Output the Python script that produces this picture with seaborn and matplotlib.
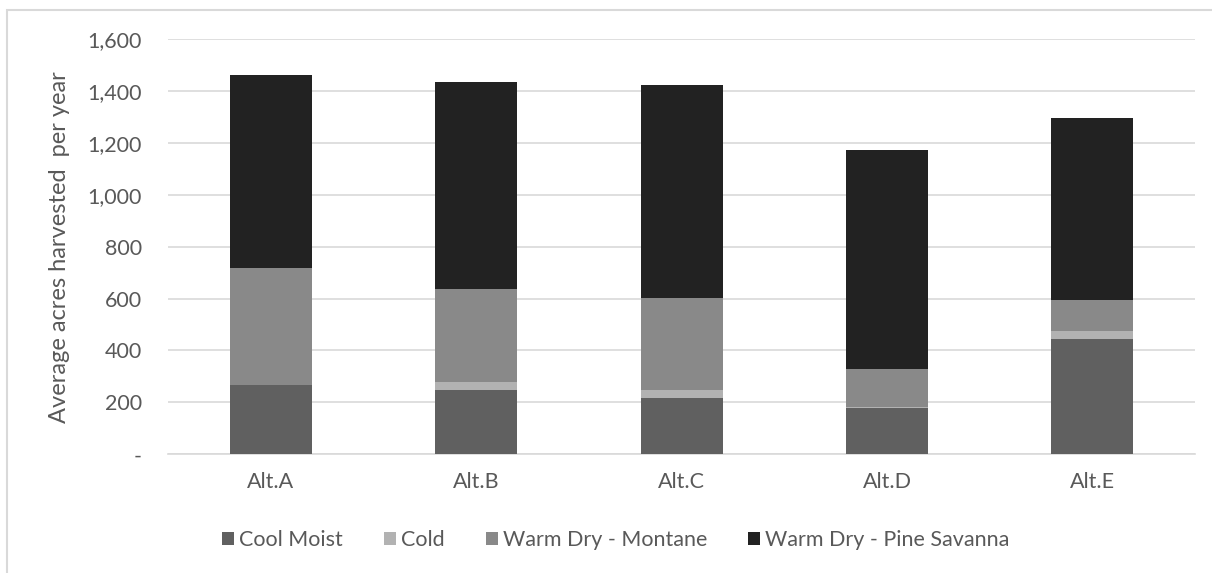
import matplotlib
matplotlib.use("Agg")
import matplotlib.pyplot as plt
import seaborn as sns
import numpy as np
import pandas as pd
from matplotlib.patches import Rectangle, Patch
from matplotlib.ticker import FuncFormatter

categories = ["Alt.A", "Alt.B", "Alt.C", "Alt.D", "Alt.E"]
series_names = ["Cool Moist", "Cold", "Warm Dry - Montane", "Warm Dry - Pine Savanna"]
cool_moist = [268, 248, 218, 178, 446]
cold = [0, 30, 30, 6, 29]
warm_dry_montane = [449, 360, 356, 144, 119]
warm_dry_pine_savanna = [743, 797, 817, 845, 702]
colors = ["#606060", "#b2b2b2", "#898989", "#222222"]

sns.set_theme(style="white")
plt.rcParams["font.family"] = ["Lato", "DejaVu Sans"]

fig = plt.figure(figsize=(12.12, 5.73), dpi=100)
ax = fig.add_axes([168.3 / 1212, 1 - 454.3 / 573, (1195 - 168.3) / 1212, (454.3 - 39) / 573])

all_series = [cool_moist, cold, warm_dry_montane, warm_dry_pine_savanna]
bottom = np.zeros(len(categories))
for name, vals, col in zip(series_names, all_series, colors):
    df = pd.DataFrame({"cat": categories, "val": vals})
    sns.barplot(data=df, x="cat", y="val", color=col, width=0.4, bottom=bottom,
                ax=ax, saturation=1, edgecolor="none", linewidth=0, zorder=3)
    bottom = bottom + np.array(vals)

ax.set_ylim(0, 1600)
ax.set_xlim(-0.5, 4.5)
ax.set_yticks(np.arange(0, 1601, 200))
ax.yaxis.set_major_formatter(FuncFormatter(lambda v, p: "-" if v == 0 else f"{int(v):,}"))
ax.grid(axis="y", color="#d9d9d9", linewidth=1.2, zorder=0)
ax.set_axisbelow(True)
for s in ["left", "right", "top"]:
    ax.spines[s].set_visible(False)
ax.spines["bottom"].set_color("#d9d9d9")
ax.spines["bottom"].set_linewidth(1.2)
ax.tick_params(axis="both", length=0, colors="#595959", labelsize=15.5)
ax.tick_params(axis="y", pad=19)
ax.tick_params(axis="x", pad=13)
ax.set_xlabel("")
ax.set_ylabel("Average acres harvested  per year", fontsize=17, color="#595959")
ax.yaxis.set_label_coords((70 - 168.3) / (1195 - 168.3), 0.5)

handles = [Patch(facecolor=c, edgecolor="none", label=n) for n, c in zip(series_names, colors)]
fig.legend(handles=handles, loc="center", bbox_to_anchor=(616 / 1212, 1 - 540 / 573), ncol=4,
           frameon=False, fontsize=15.5, labelcolor="#595959", handlelength=0.55, handleheight=0.55,
           handletextpad=0.25, columnspacing=1.9)

fig.patches.append(Rectangle((7 / 1212, -0.1), 1.2, 1 - 10 / 573 + 0.1, transform=fig.transFigure,
                             fill=False, edgecolor="#d9d9d9", linewidth=1.5, figure=fig))

fig.savefig("out.png", dpi=100, facecolor="white")
